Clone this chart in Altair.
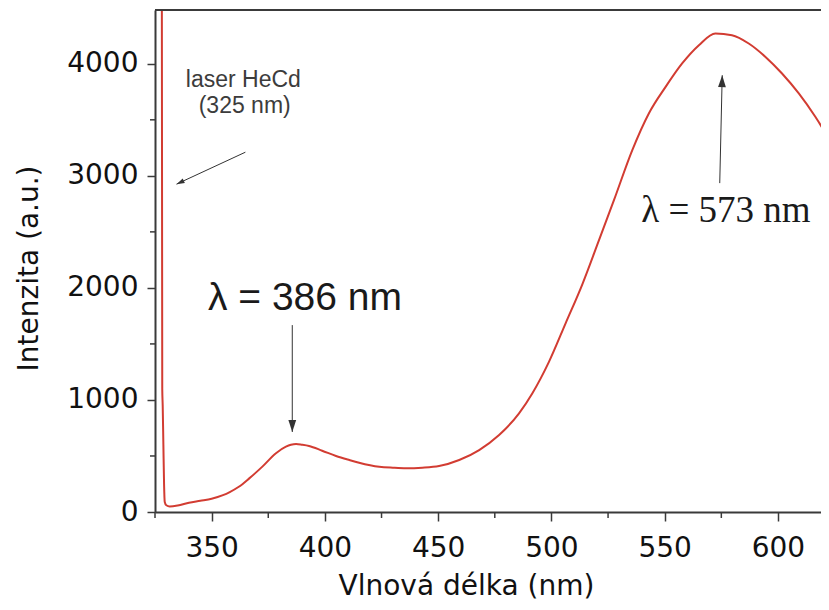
import altair as alt
import pandas as pd

# ---- spectrum ----
wavelength = [328.0, 328.2, 328.4, 328.7, 329.0, 329.3, 330.0, 331.5, 335, 340, 345,
              350, 355, 358, 362, 366.6, 372.4, 378.4, 382.8, 385, 387.3, 390, 393,
              398.8, 404.9, 410.8, 415.1, 424, 430, 435.8, 443, 450.4, 459.3, 468.1,
              476.9, 485.7, 491.6, 498.9, 506.3, 513.6, 521, 527.6, 535.7, 543, 550.4,
              557.7, 565.1, 572.4, 579.7, 587.1, 594.5, 601.8, 609.2, 616.5, 622]
intensity = [5000, 1100, 950, 600, 250, 90, 60, 50, 58, 83, 100,
             118, 150, 178, 225, 300, 405, 525, 583, 600, 607, 600, 589,
             547, 500, 464, 440, 404, 395, 390, 395, 410, 464, 553,
             687, 880, 1060, 1340, 1686, 2030, 2426, 2783, 3230, 3557, 3794,
             4003, 4166, 4270, 4255, 4181, 4061, 3913, 3735, 3527, 3348]

# ---- axes ----
x_domain = [325, 619]
y_domain = [0, 4480]
x_major = [350, 400, 450, 500, 550, 600]
x_minor = [325, 375, 425, 475, 525, 575]
y_major = [0, 1000, 2000, 3000, 4000]
y_minor = [500, 1500, 2500, 3500]

# ---- annotations ----
laser_text = ["laser HeCd", "(325 nm)"]
laser_x = [364.0, 364.6]
laser_y = [3793, 3561]

peak1_text = ["λ = 386 nm"]
peak1_x = [391.2]
peak1_y = [1803]

peak2_text = ["λ =  573  nm"]
peak2_x = [577.0]
peak2_y = [2588]

arrow_x1 = [364.9, 385.6, 574.3]
arrow_y1 = [3211, 1668, 2935]
arrow_x2 = [334.5, 385.6, 575.4]
arrow_y2 = [2926, 714, 3898]
arrow_angle = [245, 180, 1.3]
arrow_size = [64, 144, 144]

RED = "#d23c32"
AX = "#3a3a3a"
FONT = "DejaVu Sans"

xs = alt.Scale(domain=x_domain, nice=False, zero=False)
ys = alt.Scale(domain=y_domain, nice=False, zero=False)

spec = pd.DataFrame({"wl": wavelength, "v": intensity})

line = alt.Chart(spec).mark_line(color=RED, strokeWidth=2, clip=True, interpolate="monotone").encode(
    x=alt.X("wl:Q", scale=xs,
            axis=alt.Axis(values=x_major, title="Vlnová délka (nm)", grid=False, format="d",
                          domainColor=AX, domainWidth=2, tickColor=AX, tickWidth=1.5,
                          tickSize=9, labelPadding=13, labelFont=FONT, labelFontSize=28,
                          labelColor="#111", labelFlush=False,
                          titleFont=FONT, titleFontSize=28, titleFontWeight="normal",
                          titleColor="#111", titleX=311, titleY=82,
                          titleBaseline="alphabetic", titleAlign="center")),
    y=alt.Y("v:Q", scale=ys,
            axis=alt.Axis(values=y_major, title="Intenzita (a.u.)", grid=False, format="d",
                          domainColor=AX, domainWidth=2, tickColor=AX, tickWidth=1.5,
                          tickSize=8, labelPadding=9, labelFont=FONT, labelFontSize=28,
                          labelColor="#111", labelFlush=False,
                          titleFont=FONT, titleFontSize=28, titleFontWeight="normal",
                          titleColor="#111", titleAngle=-90, titleX=-118, titleY=258,
                          titleBaseline="alphabetic", titleAlign="center")),
)

xminor = alt.Chart(pd.DataFrame({"t": x_minor})).mark_rule(color=AX, strokeWidth=1.5).encode(
    x=alt.X("t:Q", scale=xs), y=alt.value(502), y2=alt.value(508))
yminor = alt.Chart(pd.DataFrame({"t": y_minor})).mark_rule(color=AX, strokeWidth=1.5).encode(
    y=alt.Y("t:Q", scale=ys), x=alt.value(-5), x2=alt.value(0))

topframe = alt.Chart(pd.DataFrame({"a": [0]})).mark_rule(color=AX, strokeWidth=2).encode(
    x=alt.datum(x_domain[0]), x2=alt.datum(x_domain[1]), y=alt.datum(y_domain[1]))

arrows_df = pd.DataFrame({"x1": arrow_x1, "y1": arrow_y1, "x2": arrow_x2, "y2": arrow_y2,
                          "ang": arrow_angle, "sz": arrow_size})
shafts = alt.Chart(arrows_df).mark_rule(color="#333", strokeWidth=1).encode(
    x=alt.X("x1:Q", scale=xs), y=alt.Y("y1:Q", scale=ys), x2="x2:Q", y2="y2:Q")
heads = alt.Chart(arrows_df).mark_point(
    shape="M0,0L0.65,2L-0.65,2Z", filled=True, color="#333", opacity=1).encode(
    x=alt.X("x2:Q", scale=xs), y=alt.Y("y2:Q", scale=ys),
    angle=alt.Angle("ang:Q", scale=None), size=alt.Size("sz:Q", scale=None))

laser = alt.Chart(pd.DataFrame({"t": laser_text, "x": laser_x, "y": laser_y})).mark_text(
    font="Liberation Sans", fontSize=23, color="#3c3c3c", align="center", baseline="alphabetic").encode(
    x=alt.X("x:Q", scale=xs), y=alt.Y("y:Q", scale=ys), text="t:N")

p1 = alt.Chart(pd.DataFrame({"t": peak1_text, "x": peak1_x, "y": peak1_y})).mark_text(
    font="Liberation Sans", fontSize=39, color="#1a1a1a", align="center", baseline="alphabetic").encode(
    x=alt.X("x:Q", scale=xs), y=alt.Y("y:Q", scale=ys), text="t:N")

p2 = alt.Chart(pd.DataFrame({"t": peak2_text, "x": peak2_x, "y": peak2_y})).mark_text(
    font="Liberation Serif", fontSize=37, color="#1a1a1a", align="center", baseline="alphabetic").encode(
    x=alt.X("x:Q", scale=xs), y=alt.Y("y:Q", scale=ys), text="t:N")

chart = alt.layer(line, xminor, yminor, topframe, shafts, heads, laser, p1, p2).properties(
    width=666, height=502,
    autosize=alt.AutoSizeParams(type="none"),
    padding={"left": 147, "top": 2, "right": 0, "bottom": 90},
    background="white",
).configure_view(stroke=None)

chart.save("out.html", embed_options={"renderer": "svg", "actions": False})
